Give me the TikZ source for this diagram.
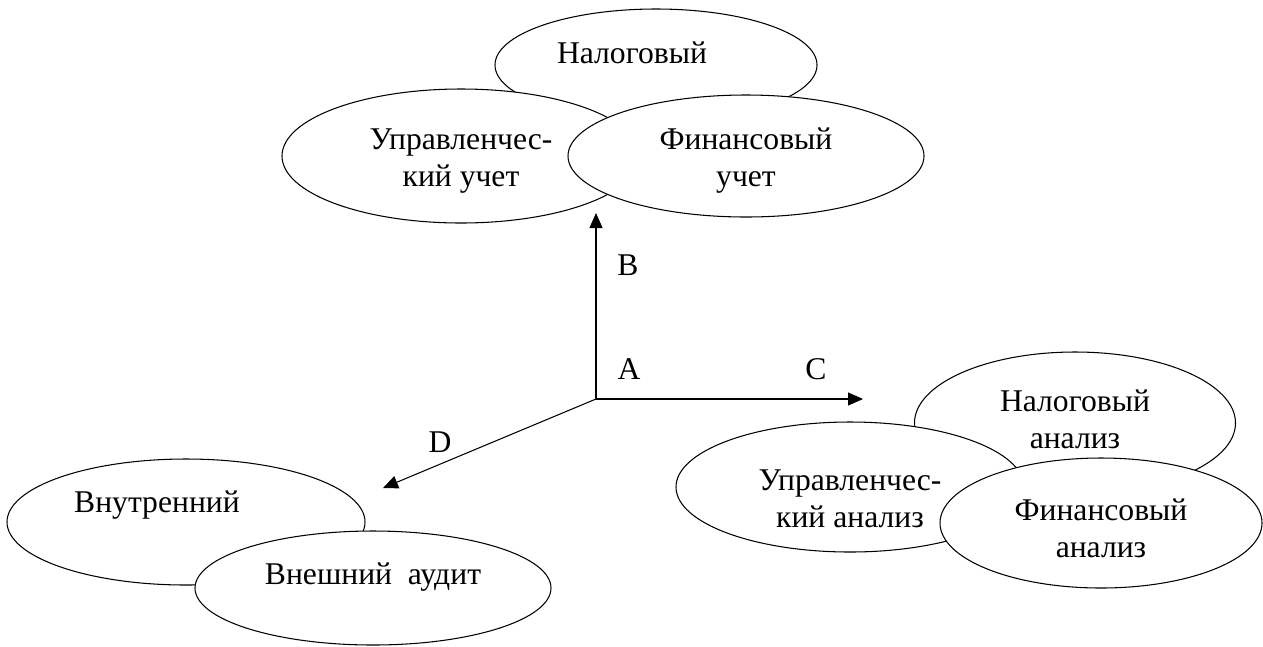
\documentclass[tikz,border=0pt]{standalone}
\usepackage{fontspec}
\setmainfont{Liberation Serif}
\usetikzlibrary{positioning,shapes.geometric,arrows.meta}
\tikzstyle{arrow} = [line width=0.6pt, -{Triangle[length=0.3cm,width=0.26cm]}]

\begin{document}
\begin{tikzpicture}[
			oval/.style={
					ellipse,
					draw=black,
					line width=0.6pt,
					fill=white,
					inner sep=0pt,
				},
			txt/.style={align=center, inner sep=0pt, font=\fontsize{18}{21}\selectfont},
			lbl/.style={inner sep=0pt, font=\fontsize{18}{21}\selectfont},
		]
		\useasboundingbox (0,0) rectangle (25.26,-12.92);

		% Учет
		\node[oval, minimum width=6.44cm, minimum height=2.24cm,
			label={[txt, xshift=-0.48cm, yshift=0.24cm]center:Налоговый}] (nalog) at (13.12,-1.30) {};
		\node[oval, minimum width=7.16cm, minimum height=2.68cm,
			label={[txt, yshift=-0.10cm]center:Управленчес-\\кий учет}] (upruch) at (9.22,-3.12) {};
		\node[oval, minimum width=7.12cm, minimum height=2.44cm,
			label={[txt, yshift=-0.10cm]center:Финансовый\\учет}] (finuch) at (14.92,-3.12) {};

		% Анализ
		\node[oval, minimum width=6.42cm, minimum height=2.84cm,
			label={[txt, yshift=0.08cm]center:Налоговый\\анализ}] (nalan) at (21.50,-8.46) {};
		\node[oval, minimum width=6.96cm, minimum height=2.60cm,
			label={[txt, yshift=-0.24cm]center:Управленчес-\\кий анализ}] (upran) at (17.00,-9.74) {};
		\node[oval, minimum width=6.44cm, minimum height=2.60cm,
			label={[txt, yshift=-0.10cm]center:Финансовый\\анализ}] (finan) at (22.02,-10.46) {};

		% Аудит
		\node[oval, minimum width=7.16cm, minimum height=2.52cm,
			label={[txt, xshift=-0.58cm, yshift=0.34cm]center:Внутренний}] (vnut) at (3.72,-10.44) {};
		\node[oval, minimum width=7.12cm, minimum height=2.28cm,
			label={[txt, yshift=0.22cm]center:Внешний~ аудит}] (vnesh) at (7.46,-11.76) {};

		% Оси
		\coordinate (A) at (11.92,-7.98);
		\coordinate (Btip) at (11.92,-4.26);
		\coordinate (Ctip) at (17.26,-7.98);
		\coordinate (Dtip) at (7.66,-9.76);
		\node[lbl] (Alabel) at ([xshift=0.66cm, yshift=0.60cm]A) {A};

		\draw[arrow] (A) -- node[lbl, pos=0.72, xshift=0.64cm]{B} (Btip);
		\draw[arrow] (A) -- node[lbl, pos=0.824, yshift=0.60cm]{C} (Ctip);
		\draw[arrow] (A) -- node[lbl, pos=0.732, yshift=0.44cm]{D} (Dtip);

	\end{tikzpicture}
\end{document}
